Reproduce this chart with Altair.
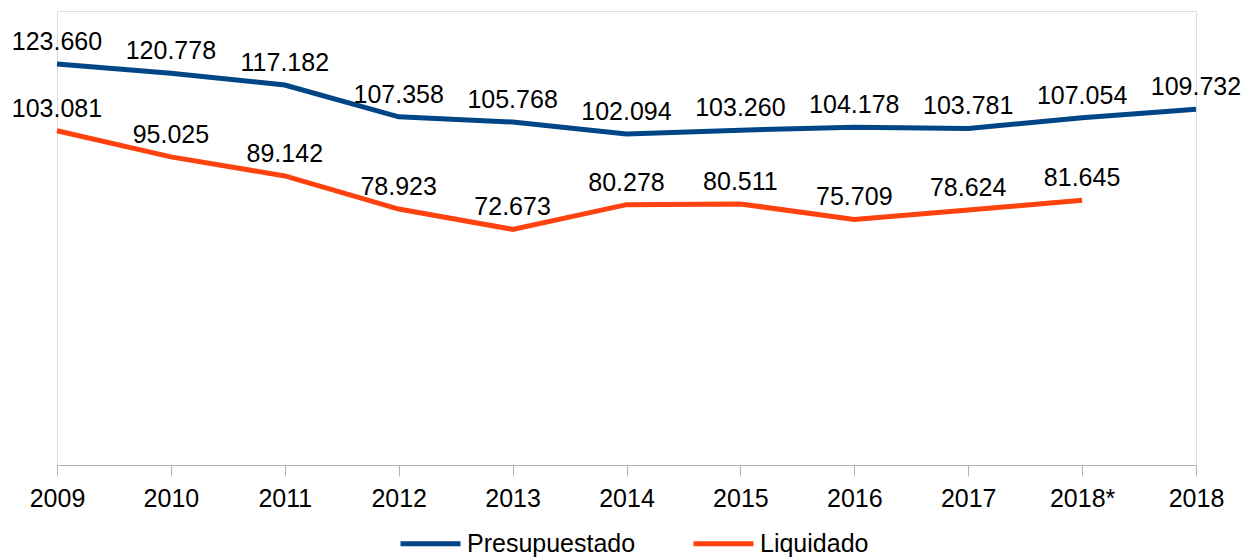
import altair as alt
import pandas as pd

years = ["2009", "2010", "2011", "2012", "2013", "2014", "2015", "2016", "2017", "2018*", "2018"]
presupuestado = [123.660, 120.778, 117.182, 107.358, 105.768, 102.094, 103.260, 104.178, 103.781, 107.054, 109.732]
liquidado = [103.081, 95.025, 89.142, 78.923, 72.673, 80.278, 80.511, 75.709, 78.624, 81.645, None]
series_names = ["Presupuestado", "Liquidado"]
series_colors = ["#004586", "#ff420e"]

rows = []
for y, v in zip(years, presupuestado):
    rows.append({"year": y, "series": series_names[0], "value": v})
for y, v in zip(years, liquidado):
    if v is not None:
        rows.append({"year": y, "series": series_names[1], "value": v})
df = pd.DataFrame(rows)

FONT = "Liberation Sans"

x = alt.X("year:N", sort=years, title=None,
          scale=alt.Scale(padding=0),
          axis=alt.Axis(labelAngle=0, labelFontSize=25, labelFont=FONT, labelColor="black",
                        domainColor="#b3b3b3", tickColor="#b3b3b3", tickSize=11,
                        labelPadding=10, grid=False))
y = alt.Y("value:Q", title=None, scale=alt.Scale(domain=[0, 140], nice=False, zero=True), axis=None)
color = alt.Color("series:N", sort=series_names,
                  scale=alt.Scale(domain=series_names, range=series_colors),
                  legend=alt.Legend(title=None, orient="none", direction="horizontal",
                                    legendX=341, legendY=500,
                                    symbolType="stroke", symbolSize=3600, symbolStrokeWidth=5,
                                    labelFontSize=25, labelFont=FONT, labelColor="black",
                                    labelOffset=4, columnPadding=47, labelLimit=400))

lines = alt.Chart(df).mark_line(strokeWidth=5).encode(x=x, y=y, color=color, detail="series:N")
labels = alt.Chart(df).mark_text(dy=-14, baseline="alphabetic", fontSize=25, font=FONT, color="black").encode(
    x=alt.X("year:N", sort=years), y=alt.Y("value:Q"), text=alt.Text("value:Q", format=".3f"))

chart = alt.layer(lines, labels).properties(
    width=1139, height=454,
    padding={"left": 57, "top": 11, "right": 50, "bottom": 95},
    autosize=alt.AutoSizeParams(type="none"),
).configure_view(stroke="#b3b3b3", strokeWidth=1).configure(background="white")

chart.save("out.html", embed_options={"renderer": "svg", "actions": False})
